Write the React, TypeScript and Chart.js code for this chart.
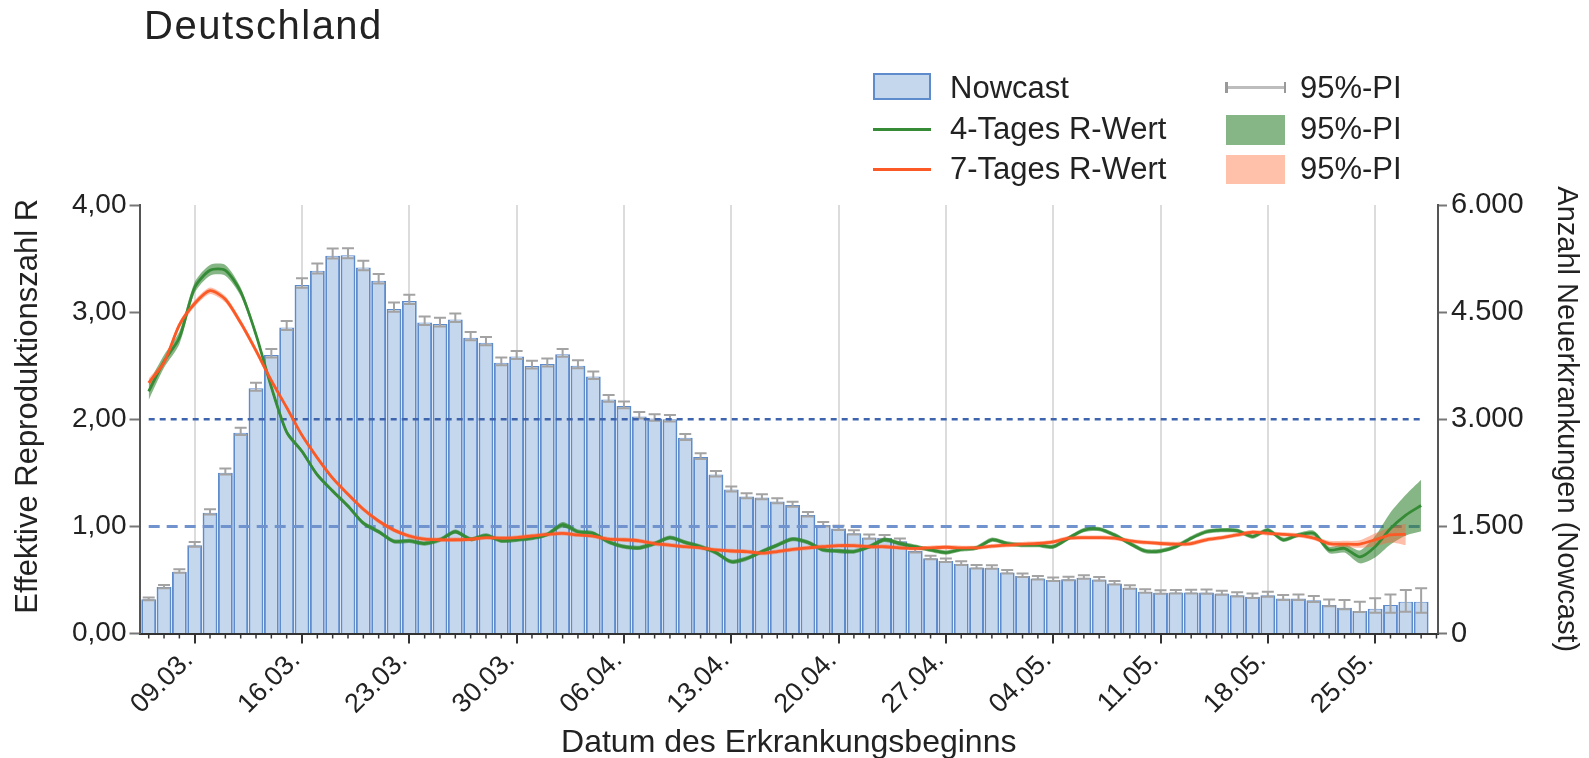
import React, { useEffect, useRef } from 'react';
import { Chart, registerables } from 'chart.js';

Chart.register(...registerables);

// x categories: one per day (index 0 = 06.03.), the last one (29.05.) carries no bar
const DATES = [
  '06.03.', '07.03.', '08.03.', '09.03.', '10.03.', '11.03.', '12.03.', '13.03.', '14.03.', '15.03.',
  '16.03.', '17.03.', '18.03.', '19.03.', '20.03.', '21.03.', '22.03.', '23.03.', '24.03.', '25.03.',
  '26.03.', '27.03.', '28.03.', '29.03.', '30.03.', '31.03.', '01.04.', '02.04.', '03.04.', '04.04.',
  '05.04.', '06.04.', '07.04.', '08.04.', '09.04.', '10.04.', '11.04.', '12.04.', '13.04.', '14.04.',
  '15.04.', '16.04.', '17.04.', '18.04.', '19.04.', '20.04.', '21.04.', '22.04.', '23.04.', '24.04.',
  '25.04.', '26.04.', '27.04.', '28.04.', '29.04.', '30.04.', '01.05.', '02.05.', '03.05.', '04.05.',
  '05.05.', '06.05.', '07.05.', '08.05.', '09.05.', '10.05.', '11.05.', '12.05.', '13.05.', '14.05.',
  '15.05.', '16.05.', '17.05.', '18.05.', '19.05.', '20.05.', '21.05.', '22.05.', '23.05.', '24.05.',
  '25.05.', '26.05.', '27.05.', '28.05.', '29.05.'
];

const TICK_LABELS = ['09.03.', '16.03.', '23.03.', '30.03.', '06.04.', '13.04.', '20.04.', '27.04.', '04.05.', '11.05.', '18.05.', '25.05.'];

const NOWCAST = [
  480, 650, 865, 1235, 1690, 2250, 2810, 3435, 3900, 4285,
  4880, 5080, 5290, 5295, 5125, 4940, 4545, 4655, 4355, 4335,
  4395, 4140, 4070, 3790, 3880, 3745, 3775, 3910, 3750, 3600,
  3275, 3185, 3040, 3010, 3000, 2740, 2470, 2225, 2015, 1920,
  1905, 1850, 1800, 1660, 1520, 1470, 1405, 1345, 1340, 1290,
  1155, 1055, 1015, 975, 925, 920, 855, 805, 770, 750,
  760, 780, 755, 700, 640, 585, 570, 575, 575, 575,
  560, 535, 515, 535, 490, 490, 465, 400, 360, 315,
  345, 400, 445, 445
];
const NOWCAST_LO = [
  465, 635, 850, 1215, 1665, 2225, 2780, 3400, 3865, 4250,
  4840, 5040, 5250, 5255, 5085, 4900, 4505, 4615, 4320, 4300,
  4360, 4105, 4035, 3755, 3845, 3710, 3740, 3875, 3715, 3565,
  3245, 3155, 3010, 2980, 2970, 2710, 2445, 2200, 1990, 1895,
  1880, 1825, 1775, 1640, 1500, 1450, 1385, 1325, 1320, 1270,
  1135, 1040, 1000, 960, 910, 905, 840, 790, 755, 735,
  745, 765, 740, 685, 625, 570, 555, 560, 560, 558,
  542, 518, 497, 515, 470, 468, 440, 380, 340, 300,
  290, 290, 305, 290
];
const NOWCAST_HI = [
  505, 680, 900, 1280, 1740, 2310, 2880, 3510, 3985, 4375,
  4975, 5180, 5390, 5395, 5220, 5035, 4635, 4745, 4440, 4420,
  4480, 4220, 4150, 3865, 3955, 3820, 3850, 3985, 3825, 3670,
  3340, 3250, 3100, 3070, 3060, 2795, 2525, 2275, 2060, 1965,
  1950, 1895, 1845, 1700, 1560, 1510, 1445, 1385, 1380, 1330,
  1190, 1090, 1050, 1010, 960, 955, 890, 840, 805, 785,
  795, 815, 790, 735, 675, 620, 605, 610, 612, 615,
  600, 578, 560, 585, 540, 545, 525, 475, 470, 445,
  495, 545, 610, 635
];

const R4 = [
  2.26, 2.54, 2.76, 3.23, 3.39, 3.39, 3.19, 2.79, 2.30, 1.88,
  1.70, 1.48, 1.33, 1.19, 1.03, 0.95, 0.86, 0.865, 0.84, 0.875,
  0.95, 0.88, 0.915, 0.865, 0.875, 0.89, 0.925, 1.015, 0.95, 0.935,
  0.855, 0.81, 0.80, 0.84, 0.895, 0.85, 0.81, 0.755, 0.67, 0.70,
  0.765, 0.825, 0.88, 0.85, 0.78, 0.77, 0.765, 0.81, 0.875, 0.84,
  0.81, 0.78, 0.755, 0.785, 0.80, 0.875, 0.84, 0.825, 0.825, 0.81,
  0.89, 0.965, 0.975, 0.92, 0.84, 0.77, 0.77, 0.81, 0.89, 0.95,
  0.965, 0.96, 0.905, 0.965, 0.875, 0.92, 0.935, 0.78, 0.795, 0.715,
  0.81, 0.98, 1.105, 1.195
];
const R4_LO = [
  2.18, 2.48, 2.70, 3.18, 3.34, 3.34, 3.15, 2.76, 2.27, 1.855,
  1.68, 1.46, 1.31, 1.17, 1.01, 0.93, 0.84, 0.845, 0.82, 0.855,
  0.93, 0.86, 0.895, 0.845, 0.855, 0.87, 0.905, 0.99, 0.93, 0.915,
  0.835, 0.79, 0.78, 0.82, 0.875, 0.83, 0.79, 0.735, 0.65, 0.68,
  0.745, 0.805, 0.86, 0.83, 0.76, 0.75, 0.745, 0.79, 0.855, 0.82,
  0.79, 0.76, 0.735, 0.765, 0.78, 0.855, 0.82, 0.805, 0.805, 0.79,
  0.87, 0.945, 0.955, 0.90, 0.82, 0.75, 0.75, 0.79, 0.87, 0.93,
  0.945, 0.94, 0.885, 0.945, 0.855, 0.90, 0.91, 0.75, 0.755, 0.655,
  0.71, 0.83, 0.915, 0.955
];
const R4_HI = [
  2.34, 2.60, 2.82, 3.28, 3.44, 3.44, 3.23, 2.82, 2.33, 1.905,
  1.72, 1.50, 1.35, 1.21, 1.05, 0.97, 0.88, 0.885, 0.86, 0.895,
  0.97, 0.90, 0.935, 0.885, 0.895, 0.91, 0.945, 1.04, 0.97, 0.955,
  0.875, 0.83, 0.82, 0.86, 0.915, 0.87, 0.83, 0.775, 0.69, 0.72,
  0.785, 0.845, 0.90, 0.87, 0.80, 0.79, 0.785, 0.83, 0.895, 0.86,
  0.83, 0.80, 0.775, 0.805, 0.82, 0.895, 0.86, 0.845, 0.845, 0.83,
  0.91, 0.985, 0.995, 0.94, 0.86, 0.79, 0.79, 0.83, 0.91, 0.97,
  0.985, 0.98, 0.925, 0.985, 0.895, 0.94, 0.96, 0.81, 0.835, 0.775,
  0.91, 1.13, 1.295, 1.435
];

const R7 = [
  2.34, 2.53, 2.88, 3.08, 3.20, 3.12, 2.90, 2.64, 2.36, 2.11,
  1.85, 1.64, 1.45, 1.30, 1.16, 1.05, 0.965, 0.91, 0.88, 0.875,
  0.875, 0.88, 0.895, 0.89, 0.895, 0.91, 0.925, 0.935, 0.92, 0.91,
  0.88, 0.875, 0.865, 0.84, 0.825, 0.81, 0.80, 0.78, 0.77, 0.765,
  0.75, 0.765, 0.785, 0.80, 0.81, 0.82, 0.82, 0.81, 0.81, 0.80,
  0.795, 0.80, 0.805, 0.80, 0.80, 0.815, 0.825, 0.835, 0.84, 0.855,
  0.89, 0.895, 0.895, 0.89, 0.865, 0.85, 0.84, 0.835, 0.84, 0.875,
  0.895, 0.92, 0.945, 0.935, 0.925, 0.915, 0.89, 0.84, 0.835, 0.835,
  0.875, 0.92, 0.925, null
];
const R7_LO = [
  2.30, 2.50, 2.85, 3.05, 3.17, 3.09, 2.87, 2.61, 2.33, 2.09,
  1.83, 1.62, 1.43, 1.28, 1.14, 1.03, 0.945, 0.89, 0.86, 0.855,
  0.855, 0.86, 0.875, 0.87, 0.875, 0.89, 0.905, 0.915, 0.90, 0.89,
  0.86, 0.855, 0.845, 0.82, 0.805, 0.79, 0.78, 0.76, 0.75, 0.745,
  0.73, 0.745, 0.765, 0.78, 0.79, 0.80, 0.80, 0.79, 0.79, 0.78,
  0.775, 0.78, 0.785, 0.78, 0.78, 0.795, 0.805, 0.815, 0.82, 0.835,
  0.87, 0.875, 0.875, 0.87, 0.845, 0.83, 0.82, 0.815, 0.82, 0.855,
  0.875, 0.90, 0.925, 0.915, 0.905, 0.895, 0.87, 0.815, 0.805, 0.80,
  0.815, 0.85, 0.825, null
];
const R7_HI = [
  2.38, 2.56, 2.91, 3.11, 3.23, 3.15, 2.93, 2.67, 2.39, 2.13,
  1.87, 1.66, 1.47, 1.32, 1.18, 1.07, 0.985, 0.93, 0.90, 0.895,
  0.895, 0.90, 0.915, 0.91, 0.915, 0.93, 0.945, 0.955, 0.94, 0.93,
  0.90, 0.895, 0.885, 0.86, 0.845, 0.83, 0.82, 0.80, 0.79, 0.785,
  0.77, 0.785, 0.805, 0.82, 0.83, 0.84, 0.84, 0.83, 0.83, 0.82,
  0.815, 0.82, 0.825, 0.82, 0.82, 0.835, 0.845, 0.855, 0.86, 0.875,
  0.91, 0.915, 0.915, 0.91, 0.885, 0.87, 0.86, 0.855, 0.86, 0.895,
  0.915, 0.94, 0.965, 0.955, 0.945, 0.935, 0.91, 0.865, 0.865, 0.87,
  0.935, 0.99, 1.025, null
];

const THRESHOLDS = [1, 2];

const FONT = "'Liberation Sans', Arial, Helvetica, sans-serif";
const TEXT = '#222222';
const GREEN = '#368c36';
const ORANGE = '#fb5a26';
const BAR_FILL = '#c5d7ec';
const BAR_EDGE = '#5d8bcc';

function fmtThousands(v: number) {
  const s = String(Math.round(v));
  return s.replace(/\B(?=(\d{3})+(?!\d))/g, '.');
}

export default function App() {
  const ref = useRef<HTMLCanvasElement | null>(null);

  useEffect(() => {
    const canvas = ref.current;
    if (!canvas) return;
    Chart.defaults.font.family = FONT;
    Chart.defaults.color = TEXT;

    const majorIdx = new Set(TICK_LABELS.map((l) => DATES.indexOf(l)));
    const pts = (arr: (number | null)[]) => arr.map((y, i) => ({ x: i, y }));
    const lastBar = NOWCAST.length - 1;

    const errorBars = {
      id: 'errorBars',
      afterDatasetDraw(chart: any, args: any) {
        if (args.index !== 0) return;
        const { ctx } = chart;
        const xs = chart.scales.x;
        const ys = chart.scales.y1;
        ctx.save();
        ctx.strokeStyle = '#a3a3a3';
        ctx.lineWidth = 2;
        NOWCAST.forEach((_, i) => {
          const x = xs.getPixelForValue(i);
          const lo = ys.getPixelForValue(NOWCAST_LO[i]);
          const hi = ys.getPixelForValue(NOWCAST_HI[i]);
          ctx.beginPath();
          ctx.moveTo(x, lo);
          ctx.lineTo(x, hi);
          ctx.moveTo(x - 6, lo);
          ctx.lineTo(x + 6, lo);
          ctx.moveTo(x - 6, hi);
          ctx.lineTo(x + 6, hi);
          ctx.stroke();
        });
        ctx.restore();
      },
    };

    const minorTicks = {
      id: 'minorTicks',
      afterDraw(chart: any) {
        const { ctx } = chart;
        const xs = chart.scales.x;
        const y0 = chart.chartArea.bottom;
        ctx.save();
        ctx.strokeStyle = '#333333';
        ctx.lineWidth = 1.5;
        DATES.forEach((_, i) => {
          if (majorIdx.has(i)) return;
          const x = xs.getPixelForValue(i);
          ctx.beginPath();
          ctx.moveTo(x, y0);
          ctx.lineTo(x, y0 + 5);
          ctx.stroke();
        });
        ctx.restore();
      },
    };

    const lineBase = { type: 'line', pointRadius: 0, pointHoverRadius: 0, yAxisID: 'y', xAxisID: 'x' };

    const chart = new Chart(canvas, {
      type: 'bar',
      data: {
        datasets: [
          {
            type: 'bar',
            label: 'Nowcast',
            data: pts(NOWCAST),
            yAxisID: 'y1',
            xAxisID: 'x',
            backgroundColor: BAR_FILL,
            borderColor: BAR_EDGE,
            borderWidth: { left: 2, right: 2, top: 1, bottom: 0 },
            barPercentage: 0.97,
            categoryPercentage: 1,
            order: 10,
          },
          {
            ...lineBase,
            label: 'R = 2',
            data: [{ x: 0, y: THRESHOLDS[1] }, { x: lastBar, y: THRESHOLDS[1] }],
            borderColor: '#3e64ae',
            borderWidth: 2.5,
            borderDash: [6, 5],
            fill: false,
            order: 6,
          },
          {
            ...lineBase,
            label: 'R = 1',
            data: [{ x: 0, y: THRESHOLDS[0] }, { x: lastBar, y: THRESHOLDS[0] }],
            borderColor: '#7093cd',
            borderWidth: 3,
            borderDash: [11, 7],
            fill: false,
            order: 6,
          },
          {
            ...lineBase,
            label: '4-Tages PI oben',
            data: pts(R4_HI),
            borderWidth: 0,
            borderColor: 'rgba(0,0,0,0)',
            backgroundColor: 'rgba(34,122,34,0.55)',
            fill: '+1',
            tension: 0.25,
            order: 5,
          },
          {
            ...lineBase,
            label: '4-Tages PI unten',
            data: pts(R4_LO),
            borderWidth: 0,
            borderColor: 'rgba(0,0,0,0)',
            fill: false,
            tension: 0.25,
            order: 5,
          },
          {
            ...lineBase,
            label: '7-Tages PI oben',
            data: pts(R7_HI),
            borderWidth: 0,
            borderColor: 'rgba(0,0,0,0)',
            backgroundColor: 'rgba(255,100,50,0.42)',
            fill: '+1',
            tension: 0.25,
            order: 4,
          },
          {
            ...lineBase,
            label: '7-Tages PI unten',
            data: pts(R7_LO),
            borderWidth: 0,
            borderColor: 'rgba(0,0,0,0)',
            fill: false,
            tension: 0.25,
            order: 4,
          },
          {
            ...lineBase,
            label: '4-Tages R-Wert',
            data: pts(R4),
            borderColor: GREEN,
            borderWidth: 2.8,
            fill: false,
            tension: 0.25,
            order: 2,
          },
          {
            ...lineBase,
            label: '7-Tages R-Wert',
            data: pts(R7),
            borderColor: ORANGE,
            borderWidth: 2.8,
            fill: false,
            tension: 0.25,
            order: 1,
          },
        ],
      } as any,
      options: {
        animation: false,
        responsive: false,
        devicePixelRatio: 1,
        layout: { padding: { top: 205, left: 0, right: 0, bottom: 0 } },
        plugins: {
          legend: { display: false },
          tooltip: { enabled: false },
          title: { display: false },
        },
        scales: {
          x: {
            type: 'linear',
            position: 'bottom',
            min: -0.6,
            max: 84.1,
            offset: false,
            afterBuildTicks: (s: any) => {
              s.ticks = DATES.map((_, i) => ({ value: i }));
            },
            afterFit: (s: any) => {
              s.height = 124.5;
            },
            ticks: {
              autoSkip: false,
              maxRotation: 45,
              minRotation: 45,
              padding: 1,
              labelOffset: -6,
              color: TEXT,
              font: { size: 27 },
              callback: (v: any) => (majorIdx.has(Number(v)) ? DATES[Number(v)] : ''),
            },
            grid: {
              offset: false,
              color: (c: any) => (c.tick && majorIdx.has(c.tick.value) ? '#dcdcdc' : 'rgba(0,0,0,0)'),
              lineWidth: 2,
              drawTicks: true,
              tickLength: 10,
              tickColor: (c: any) => (c.tick && majorIdx.has(c.tick.value) ? '#333333' : 'rgba(0,0,0,0)'),
              tickWidth: 2,
            },
            border: { display: true, color: '#333333', width: 2 },
            title: {
              display: true,
              text: 'Datum des Erkrankungsbeginns',
              color: TEXT,
              font: { size: 32 },
              padding: { top: 0, bottom: -4 },
            },
          },
          y: {
            type: 'linear',
            position: 'left',
            min: 0,
            max: 4,
            afterFit: (s: any) => {
              s.width = 139.5;
            },
            ticks: {
              stepSize: 1,
              padding: 3,
              color: TEXT,
              font: { size: 28 },
              callback: (v: any) => Number(v).toFixed(2).replace('.', ','),
            },
            grid: { drawOnChartArea: false, drawTicks: true, tickLength: 10, tickColor: '#777777', tickWidth: 2 },
            border: { display: true, color: '#555555', width: 2 },
            title: {
              display: true,
              text: '   Effektive Reproduktionszahl R',
              color: TEXT,
              font: { size: 31 },
              padding: { top: 10, bottom: 0 },
            },
          },
          y1: {
            type: 'linear',
            position: 'right',
            min: 0,
            max: 6000,
            afterFit: (s: any) => {
              s.width = 151;
            },
            ticks: {
              stepSize: 1500,
              padding: 4,
              color: TEXT,
              font: { size: 29 },
              callback: (v: any) => fmtThousands(Number(v)),
            },
            grid: { drawOnChartArea: false, drawTicks: true, tickLength: 9, tickColor: '#777777', tickWidth: 2 },
            border: { display: true, color: '#555555', width: 2 },
            title: {
              display: true,
              text: 'Anzahl Neuerkrankungen (Nowcast)',
              color: TEXT,
              font: { size: 29 },
              padding: { top: 6, bottom: 0 },
            },
          },
        },
      } as any,
      plugins: [errorBars, minorTicks],
    } as any);

    return () => {
      chart.destroy();
    };
  }, []);

  const legendText: React.CSSProperties = {
    position: 'absolute',
    fontSize: 31,
    lineHeight: '36px',
    color: TEXT,
    whiteSpace: 'nowrap',
  };

  return (
    <div
      style={{
        position: 'fixed',
        left: 0,
        top: 0,
        width: 1589,
        height: 758,
        background: '#ffffff',
        fontFamily: FONT,
        overflow: 'hidden',
      }}
    >
      <canvas
        ref={ref}
        width={1589}
        height={758}
        style={{ display: 'block', width: '1589px', height: '758px' }}
      />
      <div
        style={{
          position: 'absolute',
          left: 144,
          top: 5,
          fontSize: 40,
          lineHeight: '40px',
          letterSpacing: '1.5px',
          color: TEXT,
          whiteSpace: 'nowrap',
        }}
      >
        Deutschland
      </div>

      {/* legend, column 1 */}
      <div
        style={{
          position: 'absolute',
          left: 873,
          top: 73,
          width: 58,
          height: 27,
          boxSizing: 'border-box',
          background: BAR_FILL,
          border: `2px solid ${BAR_EDGE}`,
        }}
      />
      <div style={{ ...legendText, left: 950, top: 70.3 }}>Nowcast</div>
      <div style={{ position: 'absolute', left: 873, top: 127.5, width: 58, height: 3, background: GREEN }} />
      <div style={{ ...legendText, left: 950, top: 111.3 }}>4-Tages R-Wert</div>
      <div style={{ position: 'absolute', left: 873, top: 168, width: 58, height: 3, background: ORANGE }} />
      <div style={{ ...legendText, left: 950, top: 151.3 }}>7-Tages R-Wert</div>

      {/* legend, column 2 */}
      <div style={{ position: 'absolute', left: 1226, top: 85.5, width: 59, height: 3, background: '#bdbdbd' }} />
      <div style={{ position: 'absolute', left: 1225, top: 81.5, width: 2.5, height: 11, background: '#999999' }} />
      <div style={{ position: 'absolute', left: 1283.5, top: 81.5, width: 2.5, height: 11, background: '#999999' }} />
      <div style={{ ...legendText, left: 1300, top: 70.3 }}>95%-PI</div>
      <div style={{ position: 'absolute', left: 1226, top: 114.5, width: 59, height: 30.5, background: '#86b586' }} />
      <div style={{ ...legendText, left: 1300, top: 111.3 }}>95%-PI</div>
      <div style={{ position: 'absolute', left: 1226, top: 155, width: 59, height: 28.5, background: '#ffc1a9' }} />
      <div style={{ ...legendText, left: 1300, top: 151.3 }}>95%-PI</div>
    </div>
  );
}
